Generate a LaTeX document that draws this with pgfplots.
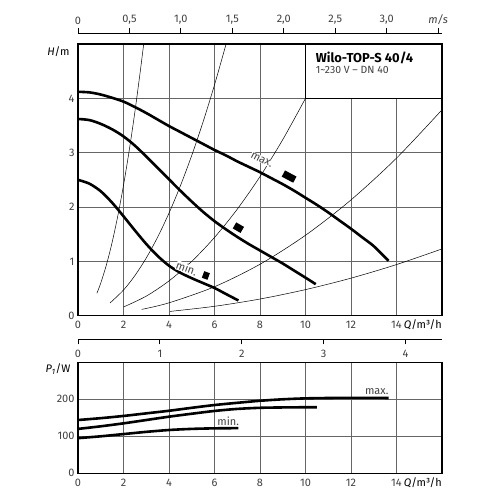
\documentclass[border=0pt]{standalone}
\usepackage{pgfplots}
\pgfplotsset{compat=1.18}
\usepackage{fontspec}
\setmainfont{Fira Sans}
\definecolor{lbl}{gray}{0.25}
\definecolor{grd}{gray}{0.4}
\definecolor{thin}{gray}{0.45}
\newcommand{\tfont}{\fontsize{11}{13}\selectfont}
\begin{document}
\begin{tikzpicture}
\path[use as bounding box] (0bp,0bp) rectangle (500bp,500bp);
\pgfplotsset{
  base/.style={scale only axis, width=364bp, xmin=0, xmax=16,
    axis line style={black, line width=1.3bp},
    grid=major, major grid style={grd, line width=0.6bp},
    major tick length=0pt,
    tick label style={font=\tfont, text=lbl},
    xticklabel style={yshift=-2bp},
    /pgf/number format/assume math mode=true,
    xtick={0,2,4,6,8,10,12,14,16},
    xticklabels={0,2,4,6,8,10,12,14,{}},
    clip=false},
  sc axis/.style={scale only axis, width=364bp, height=10bp, ymin=0, ymax=1,
    axis y line=none, tick align=outside, major tick length=5bp,
    tick style={black, line width=1bp}, axis line style={black, line width=1bp},
    /pgf/number format/assume math mode=true,
    tick label style={font=\tfont, text=lbl}},
  pump/.style={black, line width=2.6bp, smooth},
  sys/.style={thin, line width=0.5bp, smooth}
}
% ---------------- velocity scale ----------------
\begin{axis}[sc axis, at={(78bp,466.7bp)}, anchor=north west,
  xmin=0, xmax=3.537, axis x line*=top,
  xtick={0,0.5,1,1.5,2,2.5,3,3.5},
  xticklabels={0,{0,5},{1,0},{1,5},{2,0},{2,5},{3,0},\textit{m/s}}]
\node[font=\bfseries\fontsize{10}{12}\selectfont, text=lbl] at (rel axis cs:0.505,1) [yshift=27bp] {v};
\end{axis}
% ---------------- head chart ----------------
\begin{axis}[base, at={(78bp,184.3bp)}, anchor=south west, height=271.7bp,
  ymin=0, ymax=5, ytick={0,1,2,3,4}]
\addplot[sys] coordinates {(0.83,0.413) (1.0,0.6) (1.25,0.9375) (1.5,1.35) (1.75,1.8375) (2.0,2.4) (2.25,3.0375) (2.5,3.75) (2.75,4.5375) (2.887,5.0)};
\addplot[sys] coordinates {(1.41,0.235) (2,0.472) (2.5,0.7375) (3,1.062) (3.5,1.4455) (4,1.888) (4.5,2.3895) (5,2.95) (5.5,3.5695) (6,4.248) (6.51,5.0)};
\addplot[sys] coordinates {(2,0.16) (3,0.36) (4,0.64) (5,1.0) (6,1.44) (7,1.96) (8,2.56) (9,3.24) (10,4.0)};
\addplot[sys] coordinates {(2.8,0.116) (4,0.237) (6,0.533) (8,0.947) (10,1.48) (12,2.131) (14,2.90) (16,3.789)};
\addplot[sys] coordinates {(4.05,0.079) (6,0.173) (8,0.307) (10,0.48) (12,0.691) (14,0.941) (16,1.229)};
\addplot[pump] coordinates {(0,4.12) (0.5,4.11) (1,4.07) (1.5,4.01) (2,3.94) (2.5,3.84) (3,3.73) (3.5,3.61) (4,3.49) (4.5,3.38) (5,3.27) (5.5,3.16) (6,3.05) (6.5,2.95) (7,2.84) (7.5,2.74) (8,2.64) (8.5,2.53) (9,2.42) (9.5,2.30) (10,2.17) (10.5,2.04) (11,1.90) (11.5,1.75) (12,1.60) (12.5,1.44) (13,1.28) (13.65,1.01)};
\addplot[pump] coordinates {(0,3.62) (0.5,3.60) (1,3.53) (1.5,3.43) (2,3.30) (2.5,3.13) (3,2.93) (3.5,2.72) (4,2.51) (4.5,2.30) (5,2.10) (5.5,1.91) (6,1.74) (6.5,1.59) (7,1.45) (7.5,1.32) (8,1.20) (8.5,1.08) (9,0.96) (9.5,0.83) (10,0.70) (10.45,0.58)};
\addplot[pump] coordinates {(0,2.50) (0.5,2.43) (1,2.29) (1.5,2.08) (2,1.83) (2.5,1.57) (3,1.32) (3.5,1.10) (4,0.92) (4.5,0.79) (5,0.69) (5.5,0.60) (6,0.51) (6.5,0.40) (7.05,0.28)};
% labels and markers
\node[rotate=-27, fill=white, inner sep=0.3bp, font=\tfont, text=lbl] at (axis cs:8.08,2.87) {max.};
\node[fill=black, minimum width=13bp, minimum height=7bp, inner sep=0, rotate=-28] at (axis cs:9.28,2.56) {};
\node[fill=black, minimum width=9bp, minimum height=7bp, inner sep=0, rotate=-30] at (axis cs:7.05,1.62) {};
\node[rotate=-20, fill=white, inner sep=0.3bp, font=\tfont, text=lbl] at (axis cs:4.78,0.87) {min.};
\node[fill=black, minimum width=6bp, minimum height=7bp, inner sep=0, rotate=-20] at (axis cs:5.62,0.74) {};
% info box
\filldraw[fill=white, draw=black, line width=1.3bp] (axis cs:10,4) rectangle (axis cs:16,5);
\node[anchor=north west, inner sep=0, font=\bfseries\fontsize{13}{15}\selectfont] at (axis cs:10.45,4.86) {Wilo-TOP-S 40/4};
\node[anchor=north west, inner sep=0, font=\fontsize{10.5}{12}\selectfont, text=lbl] at (axis cs:10.45,4.585) {1\textasciitilde230 V – DN 40};
% axis labels
\node[anchor=east, font=\tfont, text=black] at (rel axis cs:0,0.972) [xshift=-5bp] {\textit{H}/m};
\node[anchor=base east, font=\tfont, text=black, inner sep=0] at (rel axis cs:1,0) [yshift=-13.3bp] {\textit{Q}/m³/h};
\end{axis}
% ---------------- l/s scale ----------------
\begin{axis}[sc axis, at={(78bp,160.7bp)}, anchor=south west,
  xmin=0, xmax=4.4444, axis x line*=bottom,
  xtick={0,1,2,3,4}, xticklabel style={yshift=-2bp}]
\node[anchor=base east, font=\tfont, text=black, inner sep=0] at (rel axis cs:1,0) [yshift=-18.3bp] {\textit{Q}/l/s};
\end{axis}
% ---------------- power chart ----------------
\begin{axis}[base, at={(78bp,26.7bp)}, anchor=south west, height=111bp,
  ymin=0, ymax=300, ytick={0,100,200}]
\addplot[pump] coordinates {(0,144) (1,149) (2,155) (3,162) (4,169) (5,177) (6,184.5) (7,190.5) (8,196) (9,200) (10,202.5) (11,203.5) (12,204) (13,204) (13.65,203.5)};
\addplot[pump] coordinates {(0,120) (1,127) (2,135) (3,144) (4,153) (5,161) (6,168.5) (7,174) (8,177) (9,178) (10,178.5) (10.5,178.5)};
\addplot[pump] coordinates {(0,95) (1,100) (2,106) (3,112) (4,117) (5,120) (6,121.5) (7.05,122)};
\node[font=\tfont, text=lbl] at (axis cs:6.6,140) {min.};
\node[font=\tfont, text=lbl] at (axis cs:13.13,222) {max.};
\node[anchor=east, font=\tfont, text=black] at (rel axis cs:0,0.94) [xshift=-4bp] {\textit{P\textsubscript{1}}/W};
\node[anchor=base east, font=\tfont, text=black, inner sep=0] at (rel axis cs:1,0) [yshift=-13.3bp] {\textit{Q}/m³/h};
\end{axis}
\end{tikzpicture}
\end{document}
